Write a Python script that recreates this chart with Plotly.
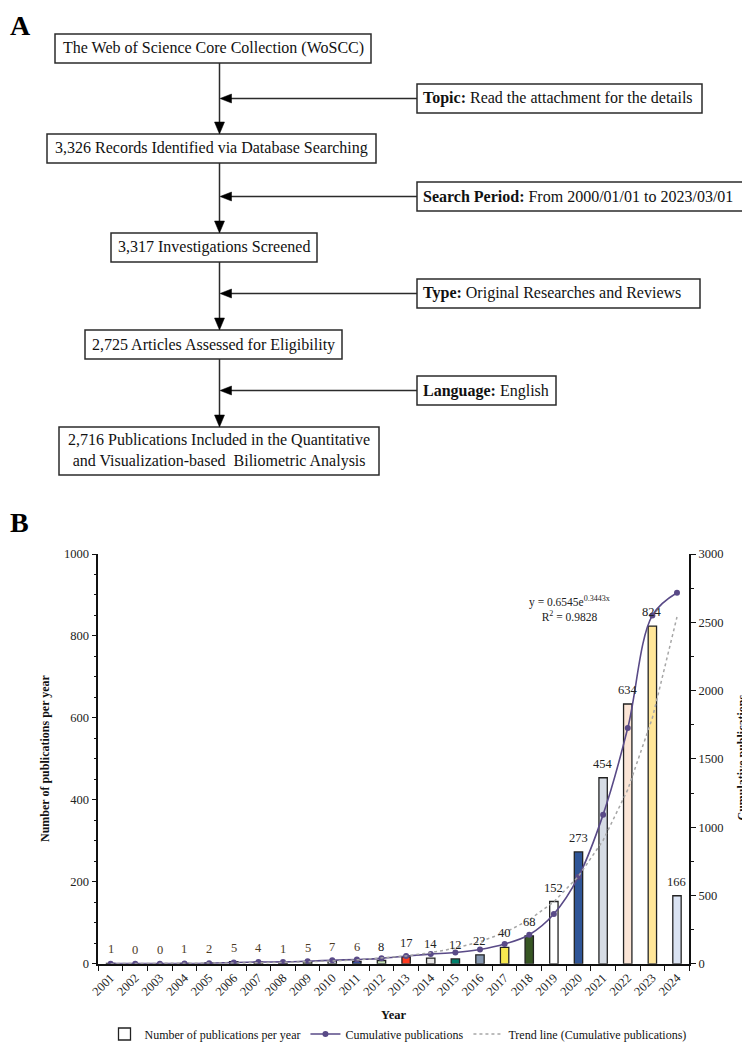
import plotly.graph_objects as go

# ---------------- data ----------------
years = [str(y) for y in range(2001, 2025)]
pubs_per_year = [1, 0, 0, 1, 2, 5, 4, 1, 5, 7, 6, 8, 17, 14, 12, 22, 40, 68, 152, 273, 454, 634, 824, 166]
cumulative = [1, 1, 1, 2, 4, 9, 13, 14, 19, 26, 32, 40, 57, 71, 83, 105, 145, 213, 365, 638, 1092, 1726, 2550, 2716]
trend_values = [0.92, 1.30, 1.84, 2.59, 3.66, 5.17, 7.29, 10.28, 14.51, 20.47, 28.89, 40.76,
                57.52, 81.2, 114.5, 161.6, 228.0, 321.7, 454.0, 640.6, 903.6, 1275, 1799, 2539]
bar_colors = ['#ffffff', '#ffffff', '#ffffff', '#c5e0b4', '#d9d9d9', '#8faadc', '#ffe699', '#f4b183',
              '#a9d18e', '#dae3f3', '#2f4f9f', '#c5e0b4', '#ff3b1f', '#e7e6e6', '#00806b', '#8497b0',
              '#f7e84f', '#375623', '#ffffff', '#2f5597', '#d6dce5', '#fbe5d6', '#ffe699', '#dae3f3']

flow_main = [
    "The Web of Science Core Collection (WoSCC)",
    "3,326 Records Identified via Database Searching",
    "3,317 Investigations Screened",
    "2,725 Articles Assessed for Eligibility",
    "2,716 Publications Included in the Quantitative<br>and Visualization-based &nbsp;Biliometric Analysis",
]
flow_side = [
    ("Topic:", "Read the attachment for the details"),
    ("Search Period:", "From 2000/01/01 to 2023/03/01"),
    ("Type:", "Original Researches and Reviews"),
    ("Language:", "English"),
]

# ---------------- layout geometry (page pixels; page body has an 8px margin) ----------------
OFF = 8
W, H = 742, 1035
SERIF = "Liberation Serif, Times New Roman, serif"


def X(px):
    return (px - OFF) / W


def Y(py):
    return 1 - (py - OFF) / H


main_boxes = [(55, 371, 34, 63), (47, 376, 134, 163), (111, 317, 233, 262),
              (85, 342, 330, 359), (59, 379, 427, 475)]
side_boxes = [(417, 702, 84, 113), (417, 745, 182, 211), (417, 700, 279, 308), (417, 556, 376, 405)]
VX = 219.5

shapes = []
annotations = []
LC = '#2b2b2b'

for (x0, x1, y0, y1), txt in zip(main_boxes, flow_main):
    shapes.append(dict(type='rect', xref='paper', yref='paper', x0=X(x0), x1=X(x1), y0=Y(y1), y1=Y(y0),
                       line=dict(color=LC, width=1.5), fillcolor='white'))
    annotations.append(dict(xref='paper', yref='paper', x=X((x0 + x1) / 2), y=Y((y0 + y1) / 2),
                            text=txt, showarrow=False, xanchor='center', yanchor='middle',
                            font=dict(family=SERIF, size=16, color='#111')))

for (x0, x1, y0, y1), (b, t) in zip(side_boxes, flow_side):
    shapes.append(dict(type='rect', xref='paper', yref='paper', x0=X(x0), x1=X(x1), y0=Y(y1), y1=Y(y0),
                       line=dict(color=LC, width=1.5), fillcolor='white'))
    annotations.append(dict(xref='paper', yref='paper', x=X(x0 + 4), y=Y((y0 + y1) / 2),
                            text=f"<b>{b}</b> {t}", showarrow=False, xanchor='left', yanchor='middle',
                            font=dict(family=SERIF, size=16, color='#111')))
    ym = (y0 + y1) / 2
    shapes.append(dict(type='line', xref='paper', yref='paper', x0=X(x0), x1=X(VX + 11), y0=Y(ym), y1=Y(ym),
                       line=dict(color=LC, width=1.5)))
    shapes.append(dict(type='path', xref='paper', yref='paper',
                       path=f"M {X(VX + 0.5)} {Y(ym)} L {X(VX + 12)} {Y(ym - 4.5)} L {X(VX + 12)} {Y(ym + 4.5)} Z",
                       fillcolor='black', line=dict(color='black', width=0.5)))

for i in range(len(main_boxes) - 1):
    ytop = main_boxes[i][3]
    ybot = main_boxes[i + 1][2]
    shapes.append(dict(type='line', xref='paper', yref='paper', x0=X(VX), x1=X(VX), y0=Y(ytop), y1=Y(ybot - 11),
                       line=dict(color=LC, width=1.5)))
    shapes.append(dict(type='path', xref='paper', yref='paper',
                       path=f"M {X(VX)} {Y(ybot)} L {X(VX - 5)} {Y(ybot - 12)} L {X(VX + 5)} {Y(ybot - 12)} Z",
                       fillcolor='black', line=dict(color='black', width=0.5)))

annotations.append(dict(xref='paper', yref='paper', x=X(8), y=Y(8), text="<b>A</b>", showarrow=False,
                        xanchor='left', yanchor='top', font=dict(family=SERIF, size=28, color='black')))
annotations.append(dict(xref='paper', yref='paper', x=X(8), y=Y(522), text="<b>B</b>", showarrow=False,
                        xanchor='left', yanchor='middle', font=dict(family=SERIF, size=28, color='black')))

# ---------------- chart ----------------
PX0, PX1, PY0, PY1 = 98.3, 689.3, 554, 963.8

fig = go.Figure()
fig.add_trace(go.Bar(x=years, y=pubs_per_year, width=0.34,
                     marker=dict(color=bar_colors, line=dict(color='#222', width=1.3)),
                     name="Number of publications per year", yaxis='y'))
fig.add_trace(go.Scatter(x=years, y=cumulative, mode='lines+markers', yaxis='y2',
                         line=dict(color='#594a87', width=1.6, shape='spline'),
                         marker=dict(color='#594a87', size=6),
                         name="Cumulative publications"))
fig.add_trace(go.Scatter(x=years, y=trend_values, mode='lines', yaxis='y2',
                         line=dict(color='#a6a6a6', width=1.5, dash='dot'),
                         name="Trend line (Cumulative publications)"))

for i, v in enumerate(pubs_per_year):
    col = '#4d3a1f' if i < 11 else '#222'
    annotations.append(dict(x=i, y=v, xref='x', yref='y', text=str(v), showarrow=False, yshift=14,
                            font=dict(family=SERIF, size=12.5, color=col)))

annotations.append(dict(xref='paper', yref='paper', x=X(569), y=Y(608.5),
                        text="y = 0.6545e<sup>0.3443x</sup><br>R<sup>2</sup> = 0.9828", showarrow=False,
                        xanchor='center', yanchor='middle', align='center',
                        font=dict(family=SERIF, size=11.5, color='#222')))

annotations.append(dict(xref='paper', yref='paper', x=X((PX0 + PX1) / 2), y=Y(1015), text="<b>Year</b>",
                        showarrow=False, xanchor='center', yanchor='middle',
                        font=dict(family=SERIF, size=12.5, color='#111')))
annotations.append(dict(xref='paper', yref='paper', x=X(45), y=Y(758), text="<b>Number of publications per year</b>",
                        showarrow=False, textangle=-90, xanchor='center', yanchor='middle',
                        font=dict(family=SERIF, size=12, color='#111')))
annotations.append(dict(xref='paper', yref='paper', x=X(741.5), y=Y(758), text="<b>Cumulative publications</b>",
                        showarrow=False, textangle=-90, xanchor='center', yanchor='middle',
                        font=dict(family=SERIF, size=12, color='#111')))

axis_font = dict(family=SERIF, size=12.5, color='#222')
fig.update_layout(
    width=W, height=H,
    margin=dict(l=0, r=0, t=0, b=0, autoexpand=False),
    paper_bgcolor='white', plot_bgcolor='white',
    barmode='overlay',
    showlegend=True,
    legend=dict(orientation='h', x=X(398), xanchor='center', y=Y(1034), yanchor='middle',
                font=dict(family=SERIF, size=12, color='#111'), bgcolor='rgba(0,0,0,0)',
                itemwidth=30, tracegroupgap=0),
    xaxis=dict(domain=[X(PX0), X(PX1)], type='category', range=[-0.5, 23.5], autorange=False,
               tickangle=-45, tickson='boundaries',
               ticks='outside', ticklen=5, tickcolor='#111', tickwidth=1.2,
               showline=True, linecolor='#111', linewidth=1.5, showgrid=False, zeroline=False,
               tickfont=axis_font, anchor='y'),
    yaxis=dict(domain=[Y(PY1), Y(PY0)], range=[0, 1000], autorange=False, dtick=200, ticks='outside', ticklen=5,
               tickcolor='#111', tickwidth=1.2, showline=True, linecolor='#111', linewidth=1.5,
               showgrid=False, zeroline=False, tickfont=axis_font,
               minor=dict(dtick=50, ticks='outside', ticklen=3, tickcolor='#111', tickwidth=1)),
    yaxis2=dict(overlaying='y', side='right', anchor='x', range=[0, 3000], autorange=False, dtick=500,
                ticks='outside', ticklen=5, tickcolor='#111', tickwidth=1.2, showline=True, linecolor='#111',
                linewidth=1.5, showgrid=False, zeroline=False, tickfont=axis_font,
                minor=dict(dtick=250, ticks='outside', ticklen=3, tickcolor='#111', tickwidth=1)),
    shapes=shapes,
    annotations=annotations,
)

fig.write_html("out.html")
